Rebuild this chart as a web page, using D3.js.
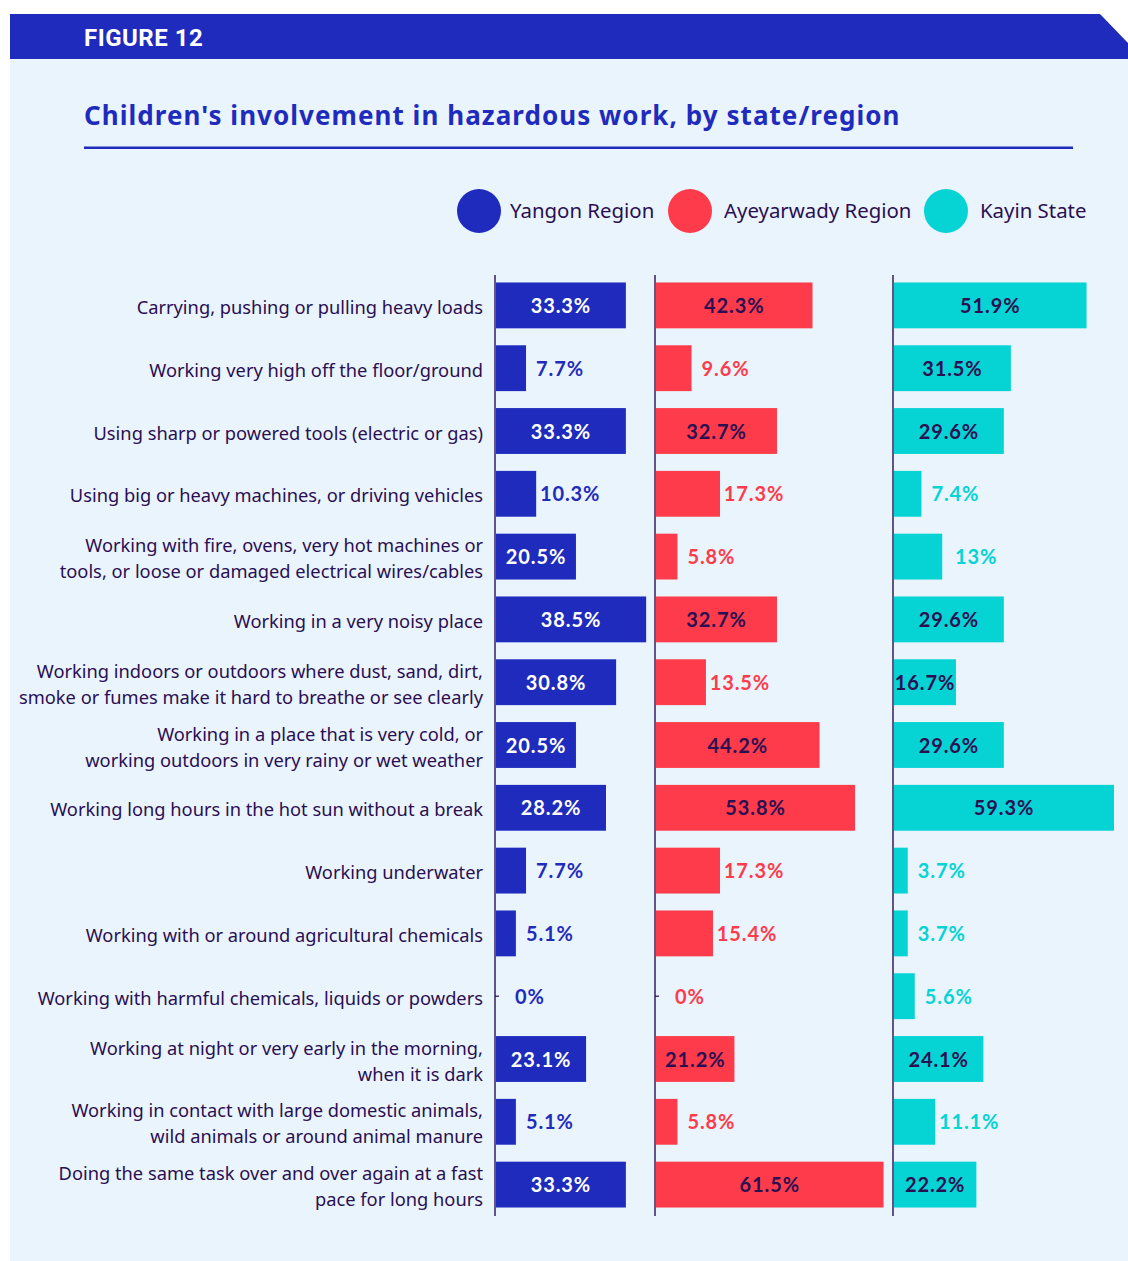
<!DOCTYPE html>
<html>
<head>
<meta charset="UTF-8">
<title>Figure 12</title>
<style>
    body { margin: 0; background: #ffffff; }
    svg { display: block; }
    .cat { font-family: "Noto Sans", sans-serif; font-size: 18.3px; fill: #2a0f52; }
    .val { font-family: Lato, sans-serif; font-weight: 700; font-size: 20px; letter-spacing: 0.9px; }
</style>
</head>
<body>
<script src="https://d3js.org/d3.v7.min.js"></script>
<script>

    // chart values
    var categories = [
        "Carrying, pushing or pulling heavy loads",
        "Working very high off the floor/ground",
        "Using sharp or powered tools (electric or gas)",
        "Using big or heavy machines, or driving vehicles",
        "Working with fire, ovens, very hot machines or|tools, or loose or damaged electrical wires/cables",
        "Working in a very noisy place",
        "Working indoors or outdoors where dust, sand, dirt,|smoke or fumes make it hard to breathe or see clearly",
        "Working in a place that is very cold, or|working outdoors in very rainy or wet weather",
        "Working long hours in the hot sun without a break",
        "Working underwater",
        "Working with or around agricultural chemicals",
        "Working with harmful chemicals, liquids or powders",
        "Working at night or very early in the morning,|when it is dark",
        "Working in contact with large domestic animals,|wild animals or around animal manure",
        "Doing the same task over and over again at a fast|pace for long hours"
    ];

    var yangon     = [33.3, 7.7, 33.3, 10.3, 20.5, 38.5, 30.8, 20.5, 28.2, 7.7, 5.1, 0, 23.1, 5.1, 33.3];
    var ayeyarwady = [42.3, 9.6, 32.7, 17.3, 5.8, 32.7, 13.5, 44.2, 53.8, 17.3, 15.4, 0, 21.2, 5.8, 61.5];
    var kayin      = [51.9, 31.5, 29.6, 7.4, 13, 29.6, 16.7, 29.6, 59.3, 3.7, 3.7, 5.6, 24.1, 11.1, 22.2];

    var seriesNames = ["Yangon Region", "Ayeyarwady Region", "Kayin State"];

    var blue = "#1f2bbd", red = "#fe3b4b", cyan = "#05d3d4", dark = "#2a0f52", bg = "#eaf4fd";

    var width = 1128, height = 1261;

    var svg = d3.select("body").append("svg")
        .attr("width", width)
        .attr("height", height);

    // panel + header
    svg.append("rect")
        .attr("x", 10).attr("y", 59)
        .attr("width", width - 10).attr("height", height - 59)
        .attr("fill", bg);

    svg.append("polygon")
        .attr("points", "10,14 1100,14 1128,43 1128,59 10,59")
        .attr("fill", blue);

    svg.append("text")
        .attr("x", 84).attr("y", 46)
        .attr("fill", "#ffffff")
        .style("font-family", "Roboto, sans-serif")
        .style("font-weight", 700)
        .style("font-size", "24px")
        .style("letter-spacing", "0.5px")
        .text("FIGURE 12");

    svg.append("text")
        .attr("x", 84).attr("y", 125)
        .attr("fill", blue)
        .style("font-family", "'Noto Sans', sans-serif")
        .style("font-weight", 700)
        .style("font-size", "26px")
        .style("letter-spacing", "1.05px")
        .text("Children's involvement in hazardous work, by state/region");

    svg.append("rect")
        .attr("x", 84).attr("y", 146.5)
        .attr("width", 989).attr("height", 2.5)
        .attr("fill", blue);

    // legend
    var legend = [
        { name: seriesNames[0], color: blue, cx: 479 },
        { name: seriesNames[1], color: red, cx: 690 },
        { name: seriesNames[2], color: cyan, cx: 946 }
    ];

    var lg = svg.selectAll(".legend")
        .data(legend)
        .enter().append("g")
        .attr("class", "legend");

    lg.append("circle")
        .attr("cx", function(d) { return d.cx; })
        .attr("cy", 211)
        .attr("r", 22)
        .attr("fill", function(d) { return d.color; });

    lg.append("text")
        .attr("x", function(d, i) { return d.cx + (i === 0 ? 31 : 34); })
        .attr("y", 218)
        .attr("fill", dark)
        .style("font-family", "'Noto Sans', sans-serif")
        .style("font-size", "20.4px")
        .text(function(d) { return d.name; });

    // rows
    var y = d3.scaleBand()
        .domain(d3.range(categories.length))
        .range([274, 1216])
        .paddingInner(0.27)
        .paddingOuter(0.135);

    var rowMid = function(i) { return y(i) + y.bandwidth() / 2; };

    var labels = svg.selectAll(".cat")
        .data(categories)
        .enter().append("text")
        .attr("class", "cat")
        .attr("text-anchor", "end")
        .attr("x", 483)
        .attr("y", function(d, i) { return rowMid(i); });

    labels.each(function(d) {
        var lines = d.split("|");
        var t = d3.select(this);
        lines.forEach(function(line, j) {
            var off = lines.length === 1 ? 8.5 : (j === 0 ? -4.5 : 21.5);
            t.append("tspan")
                .attr("x", 483)
                .attr("y", +t.attr("y") + off)
                .text(line);
        });
    });

    // three panels, each with its own scale
    var panels = [
        { values: yangon, color: blue, x0: 495, k: 3.9, inside: 15, inColor: "#ffffff" },
        { values: ayeyarwady, color: red, x0: 655, k: 3.7, inside: 20, inColor: dark },
        { values: kayin, color: cyan, x0: 893, k: 3.71, inside: 15, inColor: dark }
    ];

    panels.forEach(function(p) {
        var x = d3.scaleLinear()
            .domain([0, 100])
            .range([p.x0 + 1, p.x0 + 1 + p.k * 100]);

        var g = svg.append("g");

        g.selectAll(".bar")
            .data(p.values)
            .enter().append("rect")
            .attr("class", "bar")
            .attr("x", x(0))
            .attr("y", function(d, i) { return y(i); })
            .attr("width", function(d) { return x(d) - x(0); })
            .attr("height", y.bandwidth())
            .attr("fill", p.color);

        // tiny tick for zero values
        g.selectAll(".zero")
            .data(p.values.map(function(d, i) { return { v: d, i: i }; })
                .filter(function(d) { return d.v === 0; }))
            .enter().append("line")
            .attr("x1", p.x0).attr("x2", p.x0 + 4)
            .attr("y1", function(d) { return rowMid(d.i); })
            .attr("y2", function(d) { return rowMid(d.i); })
            .attr("stroke", dark)
            .attr("stroke-width", 1.2);

        g.selectAll(".val")
            .data(p.values)
            .enter().append("text")
            .attr("class", "val")
            .attr("text-anchor", "middle")
            .attr("x", function(d) {
                return d >= p.inside ? (x(0) + x(d)) / 2 : x(d) + 34;
            })
            .attr("y", function(d, i) { return rowMid(i) + 7.5; })
            .attr("fill", function(d) { return d >= p.inside ? p.inColor : p.color; })
            .text(function(d) { return d + "%"; });

        g.append("line")
            .attr("x1", p.x0).attr("x2", p.x0)
            .attr("y1", 275).attr("y2", 1216)
            .attr("stroke", dark)
            .attr("stroke-width", 1.4);
    });

</script>
</body>
</html>
